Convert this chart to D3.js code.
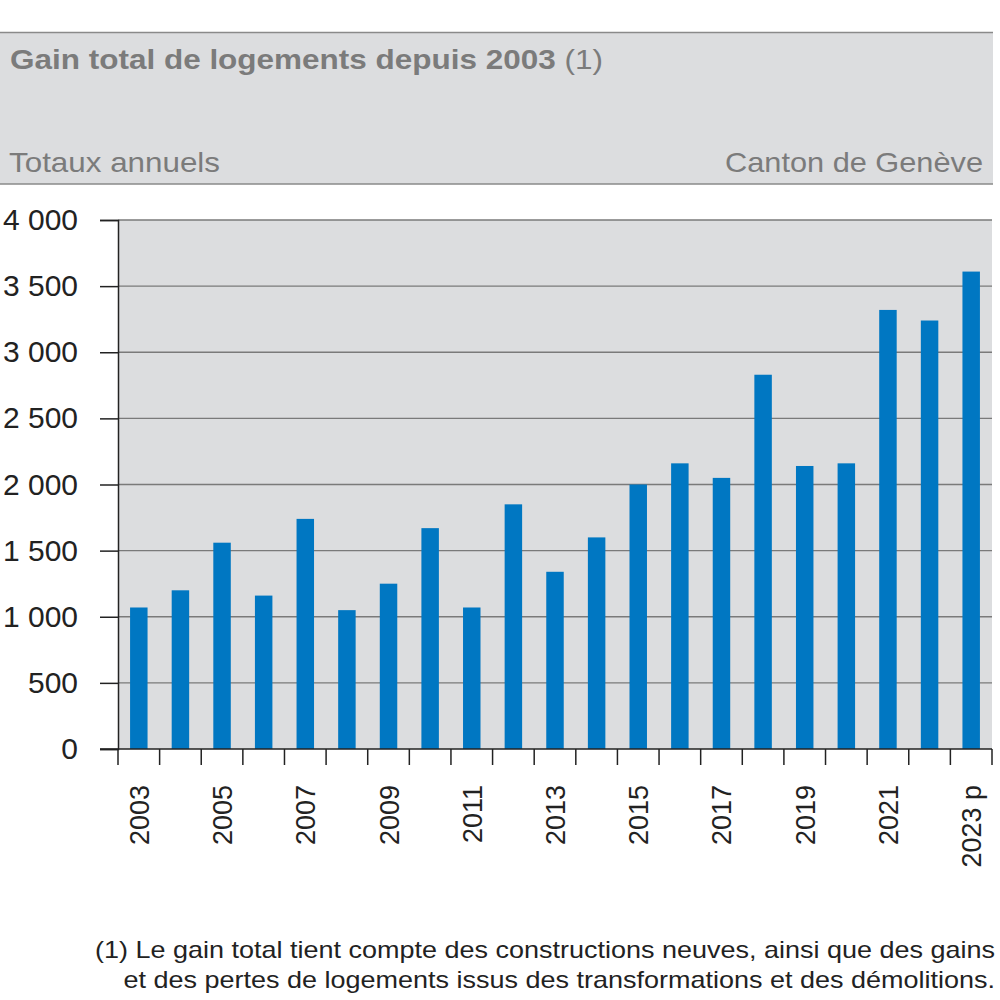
<!DOCTYPE html>
<html><head><meta charset="utf-8">
<script src="https://cdn.jsdelivr.net/npm/d3@7"></script>
<style>body{margin:0;background:#fff}svg{display:block}text{font-family:"Liberation Sans",Arial,sans-serif}</style>
</head><body><svg id="c" width="1000" height="1000"></svg>
<script>
const years = ["2003","2004","2005","2006","2007","2008","2009","2010","2011","2012","2013","2014","2015","2016","2017","2018","2019","2020","2021","2022","2023"];
const values = [1070,1200,1560,1160,1740,1050,1250,1670,1070,1850,1340,1600,2000,2160,2050,2830,2140,2160,3320,3240,3610];
const xLabels = ["2003","","2005","","2007","","2009","","2011","","2013","","2015","","2017","","2019","","2021","","2023 p"];
const yTicks = [0,500,1000,1500,2000,2500,3000,3500,4000];
const title = "Gain total de logements depuis 2003";
const titleNote = "(1)";
const subLeft = "Totaux annuels";
const subRight = "Canton de Genève";
const footnote = ["(1) Le gain total tient compte des constructions neuves, ainsi que des gains","et des pertes de logements issus des transformations et des démolitions."];

const svg = d3.select("#c");
const L=118,R=992,T=220,B=749;
function stretch(sel, f){ sel.each(function(){ const w=this.getComputedTextLength(); if(w>0){ d3.select(this).attr("textLength",w*f).attr("lengthAdjust","spacingAndGlyphs"); } }); }

// header
svg.append("rect").attr("x",0).attr("y",32).attr("width",993).attr("height",152).attr("fill","#dcdddf");
svg.append("line").attr("x1",0).attr("x2",993).attr("y1",32.5).attr("y2",32.5).attr("stroke","#8a8a8a").attr("stroke-width",1.5);
svg.append("line").attr("x1",0).attr("x2",993).attr("y1",184).attr("y2",184).attr("stroke","#8a8a8a").attr("stroke-width",1.5);
const t1 = svg.append("text").attr("x",10).attr("y",69).attr("font-size",28).attr("font-weight","bold").attr("fill","#7b7b7b").text(title);
const w1 = t1.node().getComputedTextLength();
const t2 = svg.append("text").attr("y",69).attr("font-size",28).attr("fill","#7b7b7b").text(titleNote);
const w2 = t2.node().getComputedTextLength();
const gap = 28*0.278;
const fT = 593/(w1+gap+w2);
stretch(t1,fT); t2.attr("x",10+(w1+gap)*fT); stretch(t2,fT);
const s1 = svg.append("text").attr("x",9).attr("y",172).attr("font-size",28).attr("fill","#7b7b7b").text(subLeft);
stretch(s1, 211/s1.node().getComputedTextLength());
const s2 = svg.append("text").attr("x",983).attr("y",172).attr("text-anchor","end").attr("font-size",28).attr("fill","#7b7b7b").text(subRight);
stretch(s2, 258/s2.node().getComputedTextLength());

const x = d3.scaleBand().domain(years).range([L,R]).paddingInner(0.58).paddingOuter(0.29);
const y = d3.scaleLinear().domain([0,4000]).range([B,T]);

svg.append("rect").attr("x",L).attr("y",T).attr("width",R-L).attr("height",B-T).attr("fill","#dcdddf");
svg.append("g").selectAll("line").data(yTicks.filter(d=>d>0)).join("line")
  .attr("x1",L).attr("x2",R).attr("y1",d=>y(d)).attr("y2",d=>y(d)).attr("stroke","#7a7a7a").attr("stroke-width",1.3);
svg.append("g").selectAll("rect").data(values).join("rect")
  .attr("x",(d,i)=>x(years[i])).attr("width",x.bandwidth())
  .attr("y",d=>y(d)).attr("height",d=>B-y(d)).attr("fill","#0077c2");
// y axis
const yAxis = svg.append("g").attr("transform",`translate(${L},0)`)
  .call(d3.axisLeft(y).tickValues(yTicks).tickSize(18).tickPadding(22).tickFormat(d=>d3.format(",")(d).replace(/,/g," ")));
yAxis.select(".domain").attr("stroke","#222").attr("stroke-width",1.5);
yAxis.selectAll(".tick line").attr("stroke","#222").attr("stroke-width",1.5);
const yt = yAxis.selectAll("text").attr("font-size",30).attr("fill","#222").attr("font-family","Liberation Sans, Arial, sans-serif");
const w4000 = yt.filter(d=>d===4000).node().getComputedTextLength();
stretch(yt, 75/w4000);
// x axis
const step = x.step();
const bounds = d3.range(years.length+1).map(i=>L+i*step);
svg.append("line").attr("x1",L-18).attr("x2",R).attr("y1",B).attr("y2",B).attr("stroke","#222").attr("stroke-width",1.5);
svg.append("g").selectAll("line").data(bounds).join("line")
  .attr("x1",d=>d).attr("x2",d=>d).attr("y1",B).attr("y2",B+16).attr("stroke","#222").attr("stroke-width",1.5);
const xt = svg.append("g").selectAll("text").data(xLabels).join("text")
  .attr("transform",(d,i)=>`translate(${x(years[i])+x.bandwidth()/2+10},785) rotate(-90)`)
  .attr("text-anchor","end").attr("font-size",28).attr("fill","#222").text(d=>d);
const w2003 = xt.filter(d=>d==="2003").node().getComputedTextLength();
stretch(xt, 60/w2003);
// footnote
const ft = svg.append("g").selectAll("text").data(footnote).join("text")
  .attr("x",995).attr("y",(d,i)=>958+i*30).attr("text-anchor","end").attr("font-size",24).attr("fill","#222").text(d=>d);
const wf = ft.filter((d,i)=>i===0).node().getComputedTextLength();
stretch(ft, 900/wf);
</script></body></html>
